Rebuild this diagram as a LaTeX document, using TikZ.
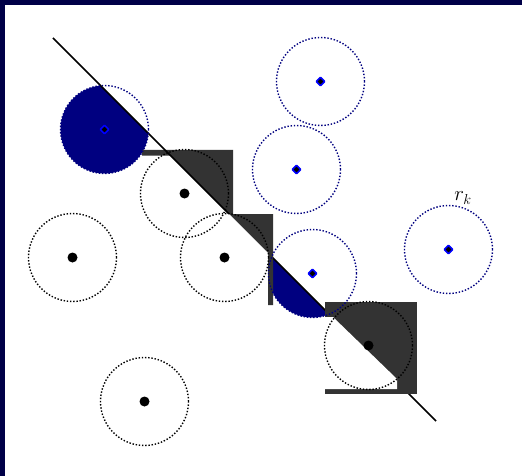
\documentclass[tikz,border=0pt]{standalone}
\usetikzlibrary{shapes.geometric}
\definecolor{frameNavy}{RGB}{0,0,72}
\definecolor{fillNavy}{RGB}{0,0,128}
\definecolor{boxGray}{RGB}{51,51,51}

\begin{document}
\begin{tikzpicture}[
  x=1pt,
  y=-1pt,
  line join=round
]

% ---------- styles ----------
\tikzset{
  ringBlue/.style={circle, draw=fillNavy, line width=1.4pt, dash pattern=on 1.4pt off 1.8pt, minimum size=88pt, inner sep=0pt},
  ringBlack/.style={circle, draw=black, line width=1.4pt, dash pattern=on 1.4pt off 1.8pt, minimum size=88pt, inner sep=0pt},
  markBlue/.style={diamond, draw=blue, fill=black, line width=1.6pt, minimum size=9pt, inner sep=0pt},
  markBlack/.style={circle, fill=black, minimum size=10pt, inner sep=0pt},
  shadeBox/.style={fill=boxGray},
  cutBox/.style={fill=white},
  split/.style={draw=black, line width=1.5pt}
}

% ---------- background and frame ----------
\fill[white] (0,0) rectangle (522,476);
\fill[frameNavy] (0,0) rectangle (522,5);
\fill[frameNavy] (0,0) rectangle (5,476);

% ---------- centres ----------
\foreach \name/\pos in {b1/{104.5,129.5}, b2/{320.5,81.5}, b3/{296.5,169.5}, b4/{312.5,273.5}, b5/{448.5,249.5}}
  \coordinate (\name) at (\pos);
\foreach \name/\pos in {k1/{184.5,193.5}, k2/{72.5,257.5}, k3/{224.5,257.5}, k4/{368.5,345.5}, k5/{144.5,401.5}}
  \coordinate (\name) at (\pos);

\coordinate (lineA) at (53,38);
\coordinate (lineB) at (436,421);

% ---------- filled halves ----------
\foreach \name in {b1, b4} {
  \begin{scope}
    \clip (\name) circle (44);
    \fill[fillNavy] (-100,-115) -- (600,585) -- (-100,585) -- cycle;
  \end{scope}
}

% ---------- first box ----------
\fill[shadeBox] (142,150) -- (233,150) -- (233,218) -- (170.7,155.7) -- (142,155.7) -- cycle;

% ---------- dividing line ----------
\draw[split] (lineA) -- (lineB);

% ---------- second box ----------
\fill[shadeBox] (229,214) -- (273,214) -- (273,305) -- (268,305) -- (268,253) -- cycle;
\fill[cutBox] (229,214) -- (268,253) -- (268,256.5) -- (225.5,214) -- cycle;

% ---------- third box ----------
\fill[shadeBox] (325,302) rectangle (417,394);
\fill[cutBox] (325,317) -- (333,317) -- (397,379) -- (397,389) -- (325,389) -- cycle;

% ---------- rings and marks ----------
\foreach \name in {b1, b2, b3, b4, b5} {
  \node[ringBlue] (ring-\name) at (\name) {};
  \node[markBlue] (mark-\name) at (\name) {};
}
\foreach \name in {k1, k2, k3, k4, k5} {
  \node[ringBlack] (ring-\name) at (\name) {};
  \node[markBlack] (mark-\name) at (\name) {};
}

\node[font=\fontsize{21}{25}\selectfont, inner sep=0pt] (rk) at (463,198) {$r_k$};

\useasboundingbox (0,0) rectangle (522,476);
\end{tikzpicture}
\end{document}
